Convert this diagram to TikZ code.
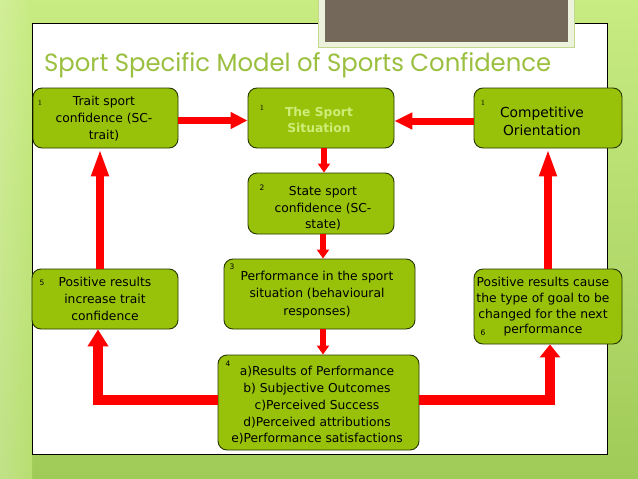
\documentclass[tikz,border=0pt]{standalone}
\usepackage{fontspec}
\usetikzlibrary{arrows.meta}
\newfontfamily\dvfont{DejaVu Sans}
\newfontfamily\titlefont{Poppins}
\definecolor{bgtop}{RGB}{200,235,130}
\definecolor{bgbot}{RGB}{160,203,88}
\definecolor{boxfill}{RGB}{152,194,10}
\definecolor{boxline}{RGB}{40,55,0}
\definecolor{titlegreen}{RGB}{155,191,63}
\definecolor{sitgreen}{RGB}{204,238,120}
\definecolor{arrowred}{RGB}{255,0,0}
\definecolor{rectgray}{RGB}{115,104,90}
\definecolor{rectedge}{RGB}{236,242,220}
\tikzset{
  gbox/.style={draw=boxline, fill=boxfill, rounded corners=9pt, line width=0.9pt,
    inner sep=0pt, align=center, text=black,
    font=\dvfont\fontsize{12.3}{16.7}\selectfont},
  numlab/.style={inner sep=0pt, font=\dvfont\fontsize{7.5}{8}\selectfont},
  numlabrm/.style={inner sep=0pt, font=\fontsize{8}{9}\selectfont},
  redarrow/.style={draw=arrowred, line join=miter},
  txt/.style={inner sep=0pt, align=center},
}
\begin{document}
\begin{tikzpicture}[x=1pt,y=-1pt]
\useasboundingbox (0,0) rectangle (638,479);
% background
\shade[top color=bgtop, bottom color=bgbot] (0,0) rectangle (638,479);
\shade[left color=white!30!bgtop, right color=bgtop, opacity=0.6] (0,0) rectangle (32,479);
% panel
\fill[white] (32,23) rectangle (607,454);
\draw[black, line width=1pt] (32,23) rectangle (607,454);
% top gray rectangle
\fill[rectedge] (318,-2) rectangle (574,47);
\draw[titlegreen!60, line width=0.6pt] (318,-2) rectangle (574,47);
\fill[rectgray] (325,-2) rectangle (568,42);
% title
\node[anchor=base west, inner sep=0pt, text=titlegreen] (title) at (44,71)
  {\resizebox{507pt}{19pt}{\titlefont\fontsize{26}{30}\selectfont Sport Specific Model of Sports Confidence}};
% boxes
\node[gbox, minimum width=145pt, minimum height=60pt] (trait) at (105.5,118) {};
\node[gbox, minimum width=146pt, minimum height=60pt] (sit) at (321,118) {};
\node[gbox, minimum width=146pt, minimum height=61pt] (state) at (321,203.5) {};
\node[gbox, minimum width=148pt, minimum height=60pt] (comp) at (548,118) {};
\node[gbox, minimum width=146pt, minimum height=60pt] (res) at (105,299) {};
\node[gbox, minimum width=191pt, minimum height=70pt] (perf) at (319.5,294) {};
\node[gbox, minimum width=148pt, minimum height=75pt] (goal) at (548,306.5) {};
\node[gbox, minimum width=201pt, minimum height=95pt] (out) at (318.5,402.5) {};
% box texts
\node[txt, font=\dvfont\fontsize{12.3}{17}\selectfont] (traitT) at (104,119) {Trait sport\\confidence (SC-\\trait)};
\node[txt, text=sitgreen, font=\dvfont\bfseries\fontsize{12.3}{16.5}\selectfont] (sitT) at (319,120) {The Sport\\Situation};
\node[txt, font=\dvfont\fontsize{12.3}{16.7}\selectfont] (stateT) at (323,208.5) {State sport\\confidence (SC-\\state)};
\node[txt, font=\dvfont\fontsize{13.8}{18}\selectfont] (compT) at (542,121) {Competitive\\Orientation};
\node[txt, font=\dvfont\fontsize{12.3}{17}\selectfont] (resT) at (105,299) {Positive results\\increase trait\\confidence};
\node[txt, font=\dvfont\fontsize{12.3}{17.5}\selectfont] (perfT) at (317,294.5) {Performance in the sport\\situation (behavioural\\responses)};
\node[txt, font=\dvfont\fontsize{12.3}{15.7}\selectfont] (goalT) at (543,307) {Positive results cause\\the type of goal to be\\changed for the next\\performance};
\node[txt, font=\dvfont\fontsize{12.3}{16.7}\selectfont] (outT) at (317,405.5) {a)Results of Performance\\b) Subjective Outcomes\\c)Perceived Success\\d)Perceived attributions\\e)Performance satisfactions};
% numbers
\node[numlabrm] (n1a) at (40,103) {1};
\node[numlabrm] (n1b) at (262,108) {1};
\node[numlab] (n2) at (262,188) {2};
\node[numlabrm] (n1c) at (483,103) {1};
\node[numlab] (n5) at (42,283) {5};
\node[numlab] (n3) at (232,267) {3};
\node[numlab] (n6) at (483,333) {6};
\node[numlab] (n4) at (228,364) {4};
% arrows
\draw[redarrow, line width=7pt, -{Triangle[length=17pt,width=16pt]}] ([yshift=-2.5pt]trait.east) -- ([yshift=-2.5pt]sit.west);
\draw[redarrow, line width=7pt, -{Triangle[length=18pt,width=16pt]}] ([yshift=-3pt]comp.west) -- ([yshift=-3pt]sit.east);
\draw[redarrow, line width=5.5pt, -{Triangle[length=9pt,width=12pt]}] (sit.south -| 324,0) -- (state.north -| 324,0);
\draw[redarrow, line width=5.5pt, -{Triangle[length=9pt,width=12pt]}] (state.south -| 323,0) -- (perf.north -| 323,0);
\draw[redarrow, line width=5.5pt, -{Triangle[length=9pt,width=12pt]}] (perf.south -| 323,0) -- (out.north -| 323,0);
\draw[redarrow, line width=8pt, -{Triangle[length=28pt,width=16pt]}] (res.north -| 100,0) -- (trait.south -| 100,0);
\draw[redarrow, line width=8pt, -{Triangle[length=28pt,width=16pt]}] (goal.north -| 548,0) -- (comp.south -| 548,0);
\draw[redarrow, line width=9.5pt, -{Triangle[length=17pt,width=20pt]}] (out.west |- 0,400) -- (98,400) -- (res.south -| 98,0);
\draw[redarrow, line width=9.5pt, -{Triangle[length=13pt,width=20pt]}] (out.east |- 0,400) -- (550,400) -- (goal.south -| 550,0);
\end{tikzpicture}
\end{document}
